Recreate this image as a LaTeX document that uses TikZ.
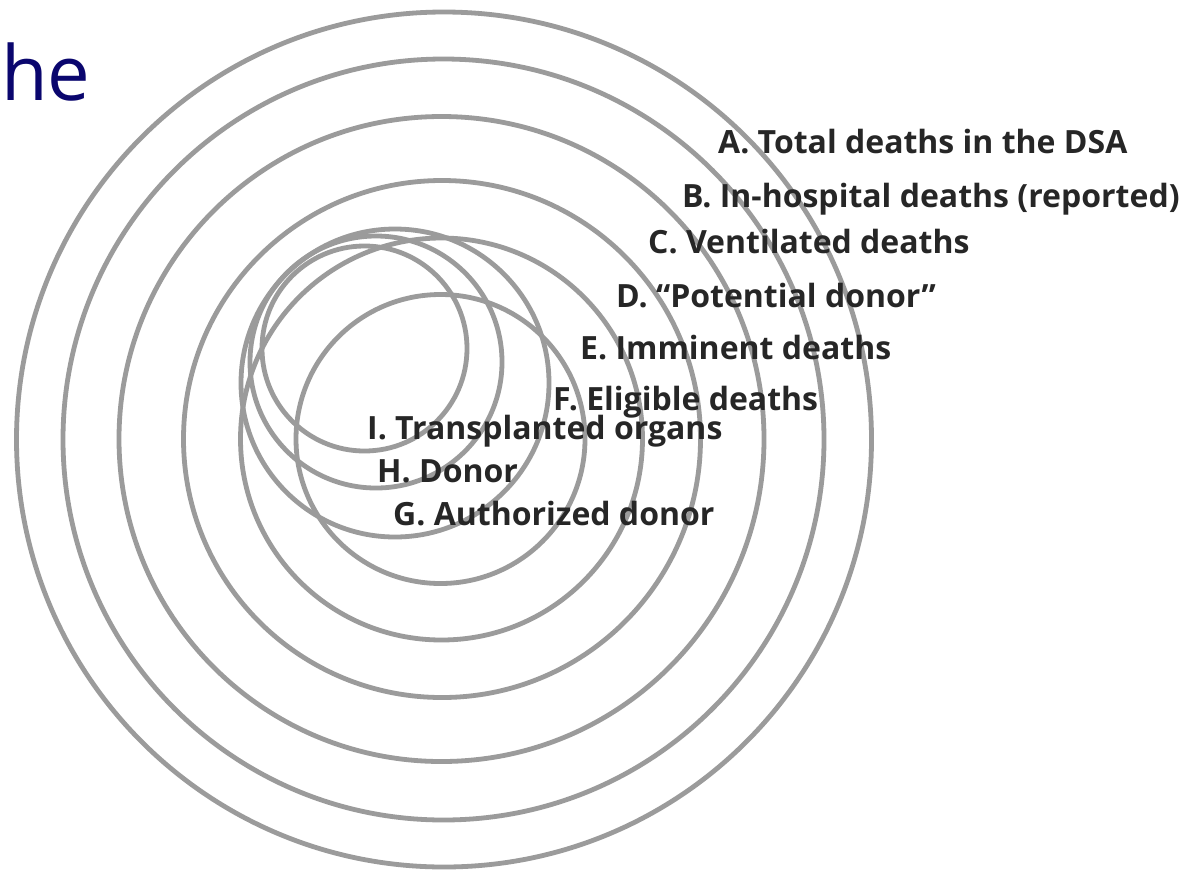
\documentclass[tikz,border=0pt]{standalone}
\usepackage{fontspec}
\setmainfont{Open Sans}
\definecolor{ringgray}{RGB}{155,155,155}
\definecolor{labeltext}{RGB}{38,38,38}
\definecolor{titleblue}{RGB}{10,6,110}
\begin{document}
\begin{tikzpicture}[x=1pt,y=-1pt,
  ring/.style={draw=ringgray,line width=4.8pt},
  lbl/.style={anchor=base west,inner sep=0pt,text=labeltext,
    font=\bfseries\fontsize{32}{38}\selectfont}]
\useasboundingbox (0,0) rectangle (1185,871);
\fill[white] (0,0) rectangle (1185,871);

% title fragment
\node[anchor=base west,inner sep=0pt,text=titleblue,
  font=\fontsize{76}{80}\selectfont] (title) at (1,100) {he};

% concentric rings A--F
\draw[ring] (444,439.5) circle[radius=427.5pt];
\draw[ring] (443.5,439.5) circle[radius=380.5pt];
\draw[ring] (441.5,439) circle[radius=322.5pt];
\draw[ring] (442,439) circle[radius=258.5pt];
\draw[ring] (441.5,439) circle[radius=201pt];
\draw[ring] (440.5,439) circle[radius=144.5pt];

% off-centre rings G--I
\draw[ring] (395,383) circle[radius=154pt];
\draw[ring] (376,362) circle[radius=126pt];
\draw[ring] (364.5,348.5) circle[radius=102.5pt];

% labels
\node[lbl] (la) at (718,153.5) {A. Total deaths in the DSA};
\node[lbl] (lb) at (682,207.5) {B. In-hospital deaths (reported)};
\node[lbl] (lc) at (648,253.5) {C. Ventilated deaths};
\node[lbl] (ld) at (616,307.5) {D. “Potential donor”};
\node[lbl] (le) at (580,359.5) {E. Imminent deaths};
\node[lbl] (lf) at (553,410.5) {F. Eligible deaths};
\node[lbl] (li) at (367,439.5) {I. Transplanted organs};
\node[lbl] (lh) at (377,482.5) {H. Donor};
\node[lbl] (lg) at (393,525.5) {G. Authorized donor};
\end{tikzpicture}
\end{document}
